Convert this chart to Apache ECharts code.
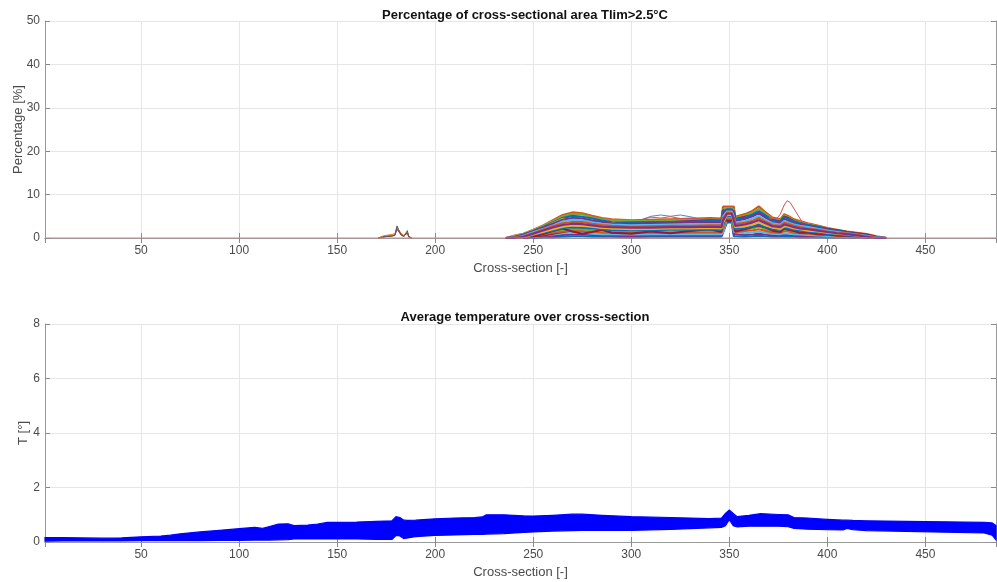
<!DOCTYPE html>
<html>
<head>
<meta charset="utf-8">
<script src="https://cdn.jsdelivr.net/npm/echarts@6/dist/echarts.min.js"></script>
<style>
  html, body { margin: 0; padding: 0; background: #fff; }
  #chart { width: 997px; height: 582px; }
</style>
</head>
<body>
<div id="chart"></div>
<script>
// ---- Percentage of cross-sectional area above Tlim, one line per run ----
const bandX = [236, 240, 245, 250, 255, 260, 265, 270, 275, 280, 285, 290, 300, 310, 320, 330, 340, 346, 346.8, 348.8,
               351.2, 352.3, 353, 358, 362, 365, 368, 372, 376, 378, 380, 383, 386, 390, 395, 400, 405, 410, 415, 420,
               425, 430];
const runA = [0, 0.5, 1.0, 1.9, 2.9, 4.1, 5.3, 5.9, 5.7, 5.1, 4.6, 4.3, 4.1, 4.2, 4.3, 4.4, 4.6, 4.5, 7.2, 7.2, 7.2, 7.2, 4.9, 5.5, 6.3, 7.3, 6.1, 4.7, 4.3, 5.5, 5.1, 4.3, 3.9, 3.4, 2.9, 2.3, 1.9, 1.5, 1.2, 0.9, 0.4, 0];
const runB = [0, 0.3, 0.9, 1.7, 2.8, 3.9, 5.0, 5.5, 5.4, 4.8, 4.3, 4.1, 3.9, 3.9, 4.1, 4.2, 4.2, 4.2, 6.6, 6.9, 6.9, 6.6, 4.6, 5.2, 5.9, 6.7, 5.7, 4.4, 4.1, 5.2, 4.8, 4.0, 3.6, 3.2, 2.7, 2.2, 1.8, 1.4, 1.1, 0.7, 0.3, 0];
const runC = [0, 0.2, 0.8, 1.6, 2.5, 3.6, 4.6, 5.1, 4.9, 4.5, 4.0, 3.7, 3.6, 3.7, 3.7, 3.8, 3.9, 3.9, 6.1, 6.6, 6.6, 6.1, 4.3, 4.7, 5.5, 6.2, 5.3, 4.1, 3.7, 4.8, 4.4, 3.8, 3.4, 3.0, 2.6, 2.0, 1.7, 1.3, 0.9, 0.6, 0.2, 0];
const runD = [0, 0.1, 0.7, 1.5, 2.4, 3.3, 4.2, 4.6, 4.5, 4.0, 3.7, 3.4, 3.3, 3.4, 3.4, 3.5, 3.6, 3.5, 5.6, 6.4, 6.4, 5.6, 3.9, 4.4, 5.0, 5.7, 4.8, 3.7, 3.4, 4.4, 4.0, 3.4, 3.1, 2.7, 2.3, 1.9, 1.5, 1.2, 0.9, 0.5, 0.1, 0];
const runE = [0, 0, 0.5, 1.3, 2.1, 2.9, 3.8, 4.2, 4.1, 3.6, 3.3, 3.1, 2.9, 3.0, 3.1, 3.2, 3.2, 3.2, 5.0, 6.1, 6.1, 5.0, 3.5, 3.9, 4.5, 5.1, 4.3, 3.4, 3.1, 3.9, 3.6, 3.1, 2.8, 2.5, 2.1, 1.7, 1.4, 1.1, 0.8, 0.5, 0.1, 0];
const runF = [0, 0, 0.4, 1.1, 1.9, 2.7, 3.4, 3.7, 3.7, 3.3, 3.0, 2.8, 2.6, 2.7, 2.8, 2.8, 2.9, 2.9, 4.5, 5.8, 5.8, 4.6, 3.2, 3.5, 4.0, 4.6, 3.9, 3.0, 2.8, 3.5, 3.3, 2.8, 2.5, 2.2, 1.9, 1.5, 1.2, 1.0, 0.7, 0.4, 0, 0];
const runG = [0, 0, 0.3, 1.0, 1.7, 2.4, 3.0, 3.3, 3.2, 2.9, 2.6, 2.5, 2.4, 2.4, 2.5, 2.5, 2.6, 2.5, 4.0, 5.6, 5.6, 4.0, 2.8, 3.1, 3.6, 4.1, 3.5, 2.7, 2.5, 3.1, 2.9, 2.5, 2.2, 2.0, 1.7, 1.4, 1.1, 0.9, 0.6, 0.3, 0, 0];
const runH = [0, 0, 0.2, 0.8, 1.4, 2.0, 2.6, 2.9, 2.8, 2.6, 2.3, 2.2, 2.0, 2.1, 2.2, 2.2, 2.3, 2.2, 3.5, 5.3, 5.3, 3.5, 2.5, 2.7, 3.1, 3.6, 3.0, 2.4, 2.1, 2.7, 2.6, 2.2, 2.0, 1.7, 1.5, 1.2, 1.0, 0.8, 0.5, 0.3, 0, 0];
const runI = [0, 0, 0.1, 0.7, 1.2, 1.7, 2.3, 2.5, 2.4, 2.2, 2.0, 1.8, 1.8, 1.8, 1.9, 1.9, 1.9, 1.9, 3.0, 5.1, 5.1, 3.0, 2.1, 2.3, 2.7, 3.1, 2.6, 2.0, 1.9, 2.4, 2.2, 1.9, 1.7, 1.5, 1.3, 1.0, 0.8, 0.6, 0.5, 0.2, 0, 0];
const runJ = [0, 0, 0, 0.5, 1.0, 1.5, 1.9, 2.1, 2.0, 1.8, 1.6, 1.5, 1.5, 1.5, 1.5, 1.6, 1.6, 1.6, 2.5, 4.8, 4.8, 2.5, 1.8, 2.0, 2.2, 2.6, 2.2, 1.7, 1.5, 2.0, 1.8, 1.5, 1.4, 1.2, 1.0, 0.8, 0.7, 0.5, 0.4, 0.2, 0, 0];
const runK = [0, 0, 0, 0.4, 0.8, 1.2, 1.5, 1.7, 1.6, 1.5, 1.3, 1.2, 1.2, 1.2, 1.2, 1.3, 1.3, 1.3, 2.0, 4.5, 4.5, 2.0, 1.4, 1.6, 1.8, 2.0, 1.7, 1.3, 1.2, 1.6, 1.5, 1.2, 1.1, 1.0, 0.8, 0.7, 0.5, 0.4, 0.3, 0.1, 0, 0];
const runL = [0, 0, 0, 0.2, 0.6, 0.8, 1.1, 1.2, 1.2, 1.0, 0.9, 0.9, 0.8, 0.9, 0.9, 0.9, 0.9, 0.9, 1.4, 4.2, 4.2, 1.4, 1.0, 1.1, 1.3, 1.5, 1.2, 1.0, 0.9, 1.1, 1.0, 0.9, 0.8, 0.7, 0.6, 0.5, 0.4, 0.3, 0.2, 0.1, 0, 0];
const runM = [0, 0, 0, 0.1, 0.4, 0.5, 0.7, 0.8, 0.8, 0.7, 0.6, 0.6, 0.5, 0.6, 0.6, 0.6, 0.6, 0.6, 0.9, 3.9, 3.9, 0.9, 0.6, 0.7, 0.8, 1.0, 0.8, 0.6, 0.6, 0.7, 0.7, 0.6, 0.5, 0.5, 0.4, 0.3, 0.3, 0.2, 0.1, 0, 0, 0];
const runN = [0, 0, 0, 0, 0.2, 0.2, 0.3, 0.4, 0.4, 0.3, 0.3, 0.3, 0.2, 0.3, 0.3, 0.3, 0.3, 0.3, 0.4, 3.6, 3.6, 0.4, 0.3, 0.3, 0.4, 0.5, 0.4, 0.3, 0.3, 0.3, 0.3, 0.3, 0.2, 0.2, 0.2, 0.1, 0.1, 0.1, 0, 0, 0, 0];
const runO = [0, 0.4, 0.9, 1.8, 2.7, 3.8, 4.8, 5.2, 4.4, 3.5, 2.8, 2.4, 2.0, 1.6, 1.4, 1.2, 1.1, 1.0, 2.4, 4.4, 4.4, 2.3, 1.2, 1.6, 2.4, 3.2, 2.0, 1.4, 1.2, 1.8, 1.6, 1.2, 1.0, 0.8, 0.6, 0.4, 0.3, 0.2, 0.1, 0, 0, 0];
const runP = [0, 0, 0.1, 0.3, 0.6, 1.0, 1.4, 1.8, 2.1, 2.4, 2.7, 2.9, 3.3, 3.5, 3.6, 3.9, 4.1, 4.0, 6.4, 5.8, 5.8, 6.3, 4.4, 4.9, 5.3, 5.9, 5.1, 4.2, 3.8, 4.9, 4.6, 3.8, 3.4, 3.0, 2.6, 2.1, 1.8, 1.4, 1.1, 0.8, 0.3, 0];
const runQ = [0, 0.1, 0.5, 1.2, 2.2, 3.4, 4.4, 4.0, 3.0, 2.6, 3.1, 3.4, 2.7, 2.2, 3.0, 3.3, 2.4, 2.3, 3.7, 4.9, 4.9, 3.8, 2.2, 3.3, 4.0, 4.6, 3.3, 2.5, 2.9, 3.6, 2.8, 2.2, 2.4, 2.0, 1.6, 1.1, 1.0, 0.7, 0.5, 0.3, 0.1, 0];
const runR = [0, 0, 0, 0.3, 0.9, 1.6, 2.2, 1.5, 1.0, 1.4, 1.9, 1.2, 1.0, 1.5, 1.1, 1.6, 2.0, 1.4, 4.7, 4.0, 4.0, 4.8, 1.5, 2.0, 2.6, 2.9, 2.5, 1.7, 1.4, 2.2, 1.9, 1.6, 1.2, 1.3, 0.9, 0.8, 0.6, 0.5, 0.3, 0.2, 0, 0];

// small hot spot near cross-section 180
const spotX = [171, 173, 175, 178, 179.5, 180.5, 181.5, 182.5, 184, 185, 185.8, 186.6, 188];
const spot1 = [0, 0.4, 0.6, 0.8, 1.0, 2.5, 2.6, 1.1, 0.6, 1.1, 1.5, 0.4, 0];
const spot2 = [0, 0.3, 0.5, 0.7, 0.9, 2.2, 2.4, 0.9, 0.5, 0.9, 1.3, 0.3, 0];
const spot3 = [0, 0.2, 0.4, 0.5, 0.7, 2.0, 2.1, 0.8, 0.4, 0.8, 1.2, 0.2, 0];
const spot4 = [0, 0.1, 0.3, 0.4, 0.6, 2.8, 2.8, 0.7, 0.3, 0.7, 1.7, 0.2, 0];

// individual runs standing out from the bundle
const peakX = [370, 374, 376, 378, 379.5, 381, 384, 387, 390];
const peakY = [4.6, 4.4, 5.5, 7.6, 8.6, 8.2, 6.0, 3.8, 3.3];
const loopX = [305, 310, 315, 320, 325, 330, 335];
const loopBlue = [4.2, 5.0, 5.3, 5.0, 5.3, 4.9, 4.4];
const loopRed = [4.2, 4.8, 4.6, 4.9, 4.5, 4.6, 4.4];
const boxX = [345, 346.2, 346.8, 352.2, 352.8, 354];
const boxY = [4.5, 4.6, 7.3, 7.3, 4.9, 4.7];
const zeroX = [1, 486];
const zeroY = [0, 0];

// ---- Average temperature envelope over all runs ----
const tempX = [1, 10, 20, 30, 40, 50, 60, 65, 70, 80, 90, 100, 108, 112, 115, 120, 125, 128, 135, 140,
               145, 150, 160, 170, 178, 180, 182, 184, 186, 190, 200, 210, 220, 224, 226, 235, 245, 250, 260, 270,
               275, 285, 300, 320, 340, 346, 348, 350, 352, 354, 360, 366, 375, 380, 383, 390, 400, 408, 410, 413,
               420, 440, 460, 480, 484, 486];
const tempLow = [0.03, 0.04, 0.04, 0.04, 0.04, 0.05, 0.05, 0.05, 0.05, 0.05, 0.06, 0.06, 0.07, 0.07, 0.07, 0.08, 0.09, 0.11, 0.11, 0.11,
                 0.11, 0.11, 0.11, 0.10, 0.10, 0.24, 0.22, 0.12, 0.15, 0.20, 0.24, 0.26, 0.28, 0.28, 0.29, 0.31, 0.35, 0.37, 0.40, 0.42,
                 0.43, 0.43, 0.43, 0.46, 0.52, 0.54, 0.60, 0.82, 0.60, 0.55, 0.58, 0.58, 0.58, 0.56, 0.50, 0.47, 0.45, 0.44, 0.50, 0.45,
                 0.42, 0.39, 0.36, 0.33, 0.25, 0.08];
const tempHigh = [0.16, 0.16, 0.15, 0.14, 0.15, 0.19, 0.22, 0.25, 0.30, 0.37, 0.43, 0.49, 0.54, 0.50, 0.56, 0.66, 0.67, 0.60, 0.62, 0.66,
                  0.72, 0.72, 0.73, 0.76, 0.78, 0.93, 0.90, 0.80, 0.79, 0.80, 0.85, 0.88, 0.90, 0.92, 1.00, 1.00, 0.96, 0.95, 0.98, 1.02,
                  1.02, 0.98, 0.93, 0.90, 0.86, 0.88, 1.05, 1.17, 1.05, 0.93, 0.98, 1.04, 1.01, 1.00, 0.90, 0.88, 0.83, 0.80, 0.80, 0.79,
                  0.78, 0.76, 0.74, 0.72, 0.70, 0.60];

// axis ranges and ticks
const xMin = 1, xMax = 486;
const pctMax = 50, pctStep = 10;
const tMax = 8, tStep = 2;

const palette = ['#0072BD', '#D95319', '#EDB120', '#7E2F8E', '#77AC30', '#4DBEEE', '#A2142F'];
const FONT = 'Liberation Sans, Arial, Helvetica, sans-serif';

function pairs(xs, ys) { return xs.map((x, i) => [x, ys[i]]); }

function lineSeries(xs, ys, color, width) {
  return {
    type: 'line', xAxisIndex: 0, yAxisIndex: 0, data: pairs(xs, ys),
    showSymbol: false, symbol: 'none', silent: true, animation: false,
    lineStyle: { color: color, width: width || 1 }
  };
}

const runs = [runN, runA, runO, runM, runB, runL, runP, runC, runK, runQ, runD, runJ, runE, runR, runI, runF, runH, runG];
const series = [];
series.push(lineSeries(spotX, spot1, '#D95319'));
series.push(lineSeries(spotX, spot2, '#EDB120'));
series.push(lineSeries(spotX, spot3, '#7E2F8E'));
series.push(lineSeries(spotX, spot4, '#595959'));
series.push(lineSeries(boxX, boxY, '#5f5f5f', 1.2));
runs.forEach((r, i) => series.push(lineSeries(bandX, r, palette[i % palette.length], 2.1)));
series.push(lineSeries(loopX, loopBlue, '#4f86d8'));
series.push(lineSeries(loopX, loopRed, '#d9534f'));
series.push(lineSeries(peakX, peakY, '#d9534f'));
series.push(lineSeries(zeroX, zeroY, '#d98383', 1.2));

// temperature band: polygon between the low and high envelopes, placed through the axes
series.push({
  type: 'custom', xAxisIndex: 2, yAxisIndex: 2, silent: true, animation: false,
  data: [[tempX[0], tempLow[0]]],
  renderItem: function (params, api) {
    const pts = [];
    for (let i = 0; i < tempX.length; i++) pts.push(api.coord([tempX[i], tempHigh[i]]));
    for (let i = tempX.length - 1; i >= 0; i--) pts.push(api.coord([tempX[i], tempLow[i]]));
    return {
      type: 'polygon',
      shape: { points: pts },
      style: { fill: '#0000ff', stroke: '#0000ff', lineWidth: 1.2 }
    };
  }
});

const gridLine = { show: true, lineStyle: { color: '#e6e6e6', width: 1 } };
const axLine = { show: true, lineStyle: { color: '#9a9a9a', width: 1 } };
const tick = { show: true, inside: true, length: 5, lineStyle: { color: '#8a8a8a' } };
const lab = { color: '#4a4a4a', fontFamily: FONT, fontSize: 12 };
const nameStyle = { color: '#4a4a4a', fontFamily: FONT, fontSize: 13 };

function xAxes(gridIndex, pos) {
  const base = {
    type: 'value', gridIndex: gridIndex, min: xMin, max: xMax, splitNumber: 10,
    axisLine: axLine, axisTick: tick
  };
  if (pos === 'bottom') {
    return Object.assign({}, base, {
      position: 'bottom', splitLine: gridLine,
      axisLabel: Object.assign({ margin: 7, showMinLabel: false, showMaxLabel: false }, lab),
      name: 'Cross-section [-]', nameLocation: 'middle', nameGap: 24, nameMoveOverlap: false,
      nameTextStyle: nameStyle
    });
  }
  return Object.assign({}, base, { position: 'top', splitLine: { show: false }, axisLabel: { show: false } });
}

function yAxes(gridIndex, max, step, name, gap) {
  return [
    {
      type: 'value', gridIndex: gridIndex, min: 0, max: max, interval: step, position: 'left',
      axisLine: axLine, axisTick: tick, splitLine: gridLine,
      axisLabel: Object.assign({ margin: 5 }, lab),
      name: name, nameLocation: 'middle', nameGap: gap, nameMoveOverlap: false,
      nameTextStyle: nameStyle
    },
    {
      type: 'value', gridIndex: gridIndex, min: 0, max: max, interval: step, position: 'right',
      axisLine: axLine, axisTick: tick, splitLine: { show: false }, axisLabel: { show: false }
    }
  ];
}

const chart = echarts.init(document.getElementById('chart'), null, { renderer: 'canvas' });
chart.setOption({
  backgroundColor: '#ffffff',
  animation: false,
  title: [
    { text: 'Percentage of cross-sectional area Tlim>2.5°C', left: 520, top: 4, textAlign: 'center',
      textStyle: { fontFamily: FONT, fontSize: 13, fontWeight: 'bold', color: '#111' } },
    { text: 'Average temperature over cross-section', left: 520, top: 306, textAlign: 'center',
      textStyle: { fontFamily: FONT, fontSize: 13, fontWeight: 'bold', color: '#111' } }
  ],
  grid: [
    { left: 45, top: 21, width: 951, height: 217, containLabel: false, outerBoundsMode: 'none' },
    { left: 45, top: 324, width: 951, height: 218, containLabel: false, outerBoundsMode: 'none' }
  ],
  xAxis: [xAxes(0, 'bottom'), xAxes(0, 'top'), xAxes(1, 'bottom'), xAxes(1, 'top')],
  yAxis: yAxes(0, pctMax, pctStep, 'Percentage [%]', 20).concat(yAxes(1, tMax, tStep, 'T [°]', 15)),
  series: series
});
</script>
</body>
</html>
